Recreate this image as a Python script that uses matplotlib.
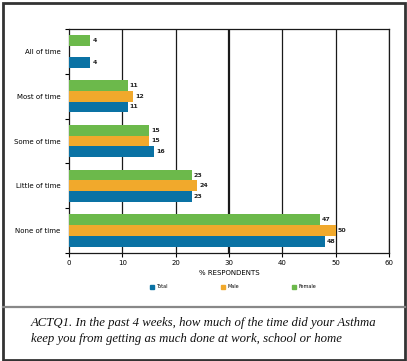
import numpy as np
import matplotlib
matplotlib.use('Agg')
import matplotlib.pyplot as plt
from matplotlib.patches import Rectangle
from matplotlib.lines import Line2D

# Values (% respondents)
categories = ['All of time', 'Most of time', 'Some of time', 'Little of time', 'None of time']
total = [4, 11, 16, 23, 48]
male = [0, 12, 15, 24, 50]
female = [4, 11, 15, 23, 47]
series_names = ['Total', 'Male', 'Female']
colors = ['#0a72a4', '#f1a92c', '#6cb94b']
caption = ('ACTQ1. In the past 4 weeks, how much of the time did your Asthma\n'
           'keep you from getting as much done at work, school or home')

W, H = 407, 361
fig = plt.figure(figsize=(W / 100, H / 100), dpi=100)
ax = fig.add_axes([69 / W, 1 - 253 / H, 320 / W, 224 / H])

y = np.arange(len(categories))
bh = 0.24
offsets = [bh, 0, -bh]  # total at bottom, female on top (y axis inverted)
for vals, off, c, name in zip([total, male, female], offsets, colors, series_names):
    bars = ax.barh(y + off, vals, height=bh, color=c, label=name, zorder=3)
    for b, v in zip(bars, vals):
        if v > 0:
            ax.text(v + 0.4, b.get_y() + b.get_height() / 2, str(v),
                    va='center', ha='left', fontsize=4.5, fontweight='bold',
                    color='#222222', zorder=4)

ax.set_ylim(len(categories) - 0.5, -0.5)
ax.set_xlim(0, 60)
ax.set_xticks(np.arange(0, 61, 10))
ax.tick_params(axis='x', labelsize=5, length=3, width=0.8, pad=2)
ax.set_yticks(y)
ax.set_yticklabels(categories, fontsize=5)
ax.tick_params(axis='y', length=0, pad=6)
ax.set_yticks(np.arange(-0.5, len(categories), 1.0), minor=True)
ax.tick_params(axis='y', which='minor', length=3, width=0.8)

for xv in range(10, 61, 10):
    ax.axvline(xv, color='#1a1a1a', lw=1.6 if xv == 30 else 0.9, zorder=2)
for s in ['top', 'left', 'bottom', 'right']:
    ax.spines[s].set_linewidth(0.9)
    ax.spines[s].set_color('#1a1a1a')

ax.set_xlabel('% RESPONDENTS', fontsize=5, labelpad=3)

fig.legend(handles=[Rectangle((0, 0), 1, 1, color=c) for c in colors],
           labels=series_names, loc='center', bbox_to_anchor=(233 / W, 1 - 287 / H),
           ncol=3, frameon=False, fontsize=3.5, handlelength=0.8, handleheight=1.0,
           columnspacing=11, handletextpad=0.5)

# Frame and caption panel
fig.add_artist(Rectangle((2.5 / W, 1.5 / H), 402 / W, 357 / H, transform=fig.transFigure,
                         fill=False, edgecolor='#333333', lw=2))
fig.add_artist(Line2D([2.5 / W, 404.5 / W], [1 - 307 / H, 1 - 307 / H],
                      transform=fig.transFigure, color='#888888', lw=1.6))
fig.text(31 / W, 1 - 331 / H, caption, fontsize=9.2, family='Liberation Serif',
         style='italic', color='#111111', va='center', ha='left', linespacing=1.45)

fig.savefig('out.png', dpi=100)
